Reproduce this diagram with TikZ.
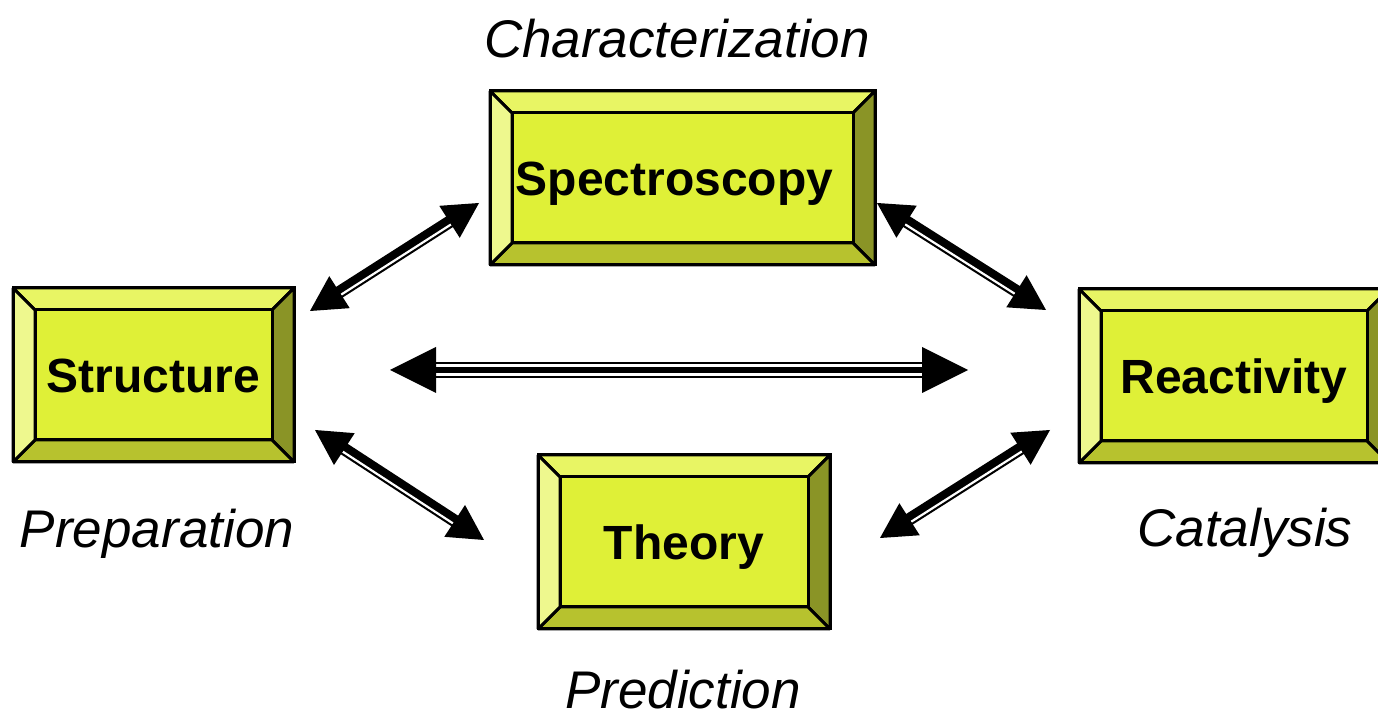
\documentclass[tikz,border=0pt]{standalone}
\usepackage{fontspec}
\setmainfont{Liberation Sans}
\usetikzlibrary{calc}
\pgfdeclarelayer{background}
\pgfsetlayers{background,main}
\definecolor{bcenter}{HTML}{DFF037}
\definecolor{btop}{HTML}{E8F564}
\definecolor{bleft}{HTML}{EEF88E}
\definecolor{bbottom}{HTML}{B7C22E}
\definecolor{bright}{HTML}{8A9426}
\tikzset{
  box/.style={draw, line width=3pt, rectangle, inner sep=0pt, outer sep=0pt,
    minimum height=174pt, text height=34.4pt, text depth=0pt,
    font=\fontsize{48}{48}\selectfont\bfseries},
  lab/.style={font=\fontsize{53}{53}\selectfont\itshape, inner sep=0pt, anchor=base},
  face/.style={draw, line width=3pt, line join=bevel},
  shaft/.style={line width=#1, line cap=butt},
}
\newcommand\bevelfaces[1]{%
\begin{pgfonlayer}{background}
\path (#1.north west) coordinate (#1-a) (#1.north east) coordinate (#1-b)
      (#1.south east) coordinate (#1-c) (#1.south west) coordinate (#1-d)
      ($(#1.north west)+(22,-22)$) coordinate (#1-A) ($(#1.north east)+(-22,-22)$) coordinate (#1-B)
      ($(#1.south east)+(-22,22)$) coordinate (#1-C) ($(#1.south west)+(22,22)$) coordinate (#1-D);
\filldraw[face, fill=btop] (#1-a)--(#1-b)--(#1-B)--(#1-A)--cycle;
\filldraw[face, fill=bright] (#1-b)--(#1-c)--(#1-C)--(#1-B)--cycle;
\filldraw[face, fill=bbottom] (#1-c)--(#1-d)--(#1-D)--(#1-C)--cycle;
\filldraw[face, fill=bleft] (#1-d)--(#1-a)--(#1-A)--(#1-D)--cycle;
\filldraw[face, fill=bcenter] (#1-A) rectangle (#1-C);
\end{pgfonlayer}}
% two-line (thick + thin) double-headed arrow between named coordinates
\newcommand\dualarrow[2]{%
\coordinate (#1#2-p) at ($(#1)!35pt!(#2)$);
\coordinate (#1#2-q) at ($(#2)!35pt!(#1)$);
\draw[shaft=12.5pt] ($(#1)!34pt!(#2)$) -- ($(#2)!34pt!(#1)$);
\draw[shaft=2.2pt, white] ($(#1#2-p)!3pt!-90:(#1#2-q)$) -- ($(#1#2-q)!3pt!90:(#1#2-p)$);
\fill ($(#1#2-p)!19pt!90:(#1)$) -- (#1) -- ($(#1#2-p)!19pt!-90:(#1)$) -- cycle;
\fill ($(#1#2-q)!19pt!90:(#2)$) -- (#2) -- ($(#1#2-q)!19pt!-90:(#2)$) -- cycle;
}
% three-line double-headed arrow
\newcommand\triarrow[2]{%
\coordinate (#1#2-p) at ($(#1)!46pt!(#2)$);
\coordinate (#1#2-q) at ($(#2)!46pt!(#1)$);
\draw[shaft=15.5pt] ($(#1)!45pt!(#2)$) -- ($(#2)!45pt!(#1)$);
\draw[shaft=2.8pt, white] ($(#1#2-p)!4.25pt!-90:(#1#2-q)$) -- ($(#1#2-q)!4.25pt!90:(#1#2-p)$);
\draw[shaft=2.8pt, white] ($(#1#2-p)!4.25pt!90:(#1#2-q)$) -- ($(#1#2-q)!4.25pt!-90:(#1#2-p)$);
\fill ($(#1#2-p)!23pt!90:(#1)$) -- (#1) -- ($(#1#2-p)!23pt!-90:(#1)$) -- cycle;
\fill ($(#1#2-q)!23pt!90:(#2)$) -- (#2) -- ($(#1#2-q)!23pt!-90:(#2)$) -- cycle;
}
\begin{document}
\begin{tikzpicture}[x=1pt,y=1pt]
\useasboundingbox (0,0) rectangle (1378,717);
% boxes
\node[box, minimum width=385pt] (spec) at (682.5,539) {Spectroscopy\hspace*{16pt}};
\node[box, minimum width=281pt] (struct) at (153.5,342) {Structure};
\node[box, minimum width=310pt] (react) at (1234,341) {Reactivity};
\node[box, minimum width=292pt] (theory) at (684,175) {Theory};
\bevelfaces{spec}
\bevelfaces{struct}
\bevelfaces{react}
\bevelfaces{theory}
% labels
\node[lab] (lchar) at (677,659) {Characterization};
\node[lab] (lprep) at (157,169) {Preparation};
\node[lab] (lcat) at (1245,170) {Catalysis};
\node[lab] (lpred) at (683,9) {Prediction};
% arrow end points
\coordinate (a1) at (310,406);
\coordinate (b1) at (479,514);
\coordinate (a2) at (877,514);
\coordinate (b2) at (1046,407);
\coordinate (a3) at (390,347);
\coordinate (b3) at (968,347);
\coordinate (a4) at (315,287);
\coordinate (b4) at (484,177);
\coordinate (a5) at (880,179);
\coordinate (b5) at (1050,287);
\dualarrow{a1}{b1}
\dualarrow{a2}{b2}
\triarrow{a3}{b3}
\dualarrow{a4}{b4}
\dualarrow{a5}{b5}
\end{tikzpicture}
\end{document}
